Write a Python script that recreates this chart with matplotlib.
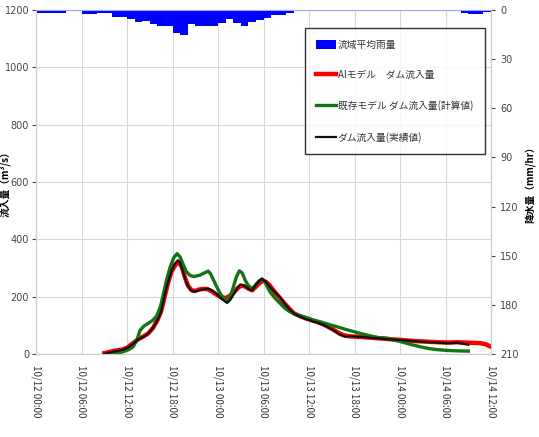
import matplotlib.pyplot as plt
import numpy as np

plt.rcParams['font.family'] = ['Noto Sans CJK JP', 'DejaVu Sans']

# hours since 10/12 00:00
tick_hours = [0, 6, 12, 18, 24, 30, 36, 42, 48, 54, 60]
tick_labels = ['10/12 00:00', '10/12 06:00', '10/12 12:00', '10/12 18:00',
               '10/13 00:00', '10/13 06:00', '10/13 12:00', '10/13 18:00',
               '10/14 00:00', '10/14 06:00', '10/14 12:00']

# basin average rainfall (mm/hr), hourly from 10/12 00:00
rain = [2, 2, 1.5, 1.5, 0.5, 0.5, 2.5, 2.5, 1.5, 2, 4, 4, 5.5, 7, 6.5, 8.5,
        10, 10, 14, 15.5, 8.5, 9.5, 9.5, 9.5, 8, 5.5, 8, 9.5, 7, 6, 5, 3, 3,
        1.5, 0.7, 0.7, 0.5, 0.5, 0.5, 0, 0, 0, 0, 0, 0, 0, 0.5, 0.5, 0, 0, 0,
        0, 0, 0, 0, 0, 1.5, 2.5, 2.5, 1]

# observed dam inflow
obs_t = [9.0, 9.5, 10.2, 11.0, 11.5, 12.2, 12.8, 13.3, 14.0, 14.6, 15.0, 15.5,
         16.0, 16.4, 16.8, 17.2, 17.6, 17.9, 18.3, 18.7, 19.0, 19.3, 19.6, 19.9,
         20.3, 20.8, 21.2, 21.6, 22.2, 22.7, 23.2, 23.8, 24.3, 24.8, 25.2, 25.6,
         26.0, 26.5, 26.9, 27.3, 27.8, 28.2, 28.5, 28.9, 29.3, 29.8, 30.2, 30.6,
         30.9, 31.5, 32.2, 32.8, 33.5, 34.2, 34.8, 35.5, 36.1, 36.5, 36.8, 37.5,
         38.2, 38.8, 39.5, 40.0, 40.8, 41.5, 42.3, 43.2, 44.3, 45.4, 46.5, 48.0,
         49.3, 50.7, 52.0, 53.2, 54.2, 55.0, 55.5, 56.2, 57.0]
obs_q = [0, 4, 8, 12, 15, 24, 35, 48, 58, 67, 78, 95,
         118, 140, 185, 232, 268, 292, 315, 327, 318, 295, 265, 245,
         225, 217, 220, 223, 226, 228, 222, 210, 196, 185, 178, 188,
         205, 228, 242, 240, 232, 224, 222, 238, 252, 262, 255, 242,
         232, 215, 198, 175, 153, 138, 130, 122, 118, 113, 112, 106,
         98, 89, 78, 68, 60, 62, 60, 59, 56, 54, 51, 49,
         46, 43, 41, 39, 37, 38, 39, 36, 32]

# AI model dam inflow
ai_t = [9.0, 9.8, 10.5, 11.3, 12.0, 12.8, 13.5, 14.2, 14.8, 15.4, 16.0, 16.5,
        17.0, 17.5, 17.9, 18.4, 18.8, 19.2, 19.6, 20.0, 20.5, 21.0, 21.5, 22.0,
        22.6, 23.2, 23.8, 24.4, 25.0, 25.5, 26.0, 26.6, 27.0, 27.5, 28.0, 28.5,
        29.0, 29.5, 29.9, 30.3, 30.8, 31.3, 32.0, 32.7, 33.4, 34.0, 34.8, 35.6,
        36.3, 37.0, 37.8, 38.5, 39.2, 39.8, 40.5, 41.2, 42.5, 44.0, 45.5, 47.0,
        48.5, 50.0, 51.5, 53.0, 54.5, 55.5, 56.5, 57.5, 58.5, 59.3, 60.0]
ai_q = [3, 8, 12, 15, 22, 38, 52, 62, 72, 90, 118, 150,
        205, 258, 290, 312, 320, 305, 270, 240, 222, 220, 225, 227,
        226, 218, 207, 198, 195, 202, 213, 230, 238, 236, 228, 222,
        235, 248, 255, 252, 240, 222, 200, 178, 158, 142, 132, 124,
        118, 112, 104, 95, 85, 75, 66, 62, 60, 57, 54, 51,
        48, 45, 43, 41, 40, 41, 40, 39, 38, 34, 25]

# existing model dam inflow (calculated)
conv_t = [9.5, 10.3, 11.0, 11.5, 12.2, 12.8, 13.3, 13.7, 14.2, 14.8, 15.4, 15.9,
          16.4, 16.8, 17.2, 17.7, 18.2, 18.6, 19.0, 19.4, 19.8, 20.3, 20.8, 21.6,
          22.2, 22.7, 23.0, 23.4, 23.9, 24.3, 24.8, 25.2, 25.6, 26.0, 26.4, 26.8,
          27.2, 27.6, 28.0, 28.5, 28.9, 29.4, 29.8, 30.2, 30.6, 30.9, 31.5, 32.2,
          32.8, 33.5, 34.3, 35.3, 36.4, 37.5, 38.6, 39.7, 40.8, 41.9, 43.0, 44.1,
          45.2, 46.3, 47.2, 48.5, 49.6, 50.7, 51.8, 52.9, 54.5, 56.0, 57.0]
conv_q = [0, 3, 5, 8, 15, 25, 50, 82, 97, 107, 118, 132,
          165, 210, 258, 305, 338, 350, 338, 312, 288, 274, 270, 275,
          283, 289, 280, 258, 230, 210, 192, 185, 200, 232, 268, 290,
          282, 256, 238, 228, 240, 255, 262, 250, 228, 215, 195, 176,
          160, 147, 137, 130, 120, 112, 103, 95, 86, 78, 70, 63,
          57, 55, 49, 40, 32, 25, 19, 15, 12, 10.5, 10]

fig = plt.figure(figsize=(5.39, 4.37), dpi=100)
ax = fig.add_axes([0.067, 0.19, 0.844, 0.787])
ax2 = ax.twinx()

ax.plot(ai_t, ai_q, color='#ff0000', lw=3.2, label='AIモデル　ダム流入量', zorder=3)
ax.plot(conv_t, conv_q, color='#127512', lw=2.4, label='既存モデル ダム流入量(計算値)', zorder=4)
ax.plot(obs_t, obs_q, color='#111111', lw=1.6, label='ダム流入量(実績値)', zorder=5)

ax2.bar(np.arange(len(rain)), rain, width=1.0, align='edge', color='#0000ff',
        label='流域平均雨量')

narrow = ['Liberation Sans Narrow', 'DejaVu Sans']

ax.set_xlim(0, 60)
ax.set_ylim(0, 1200)
ax.set_yticks(range(0, 1201, 200))
ax.set_xticks(tick_hours)
ax.set_xticklabels(tick_labels, rotation=-90, fontsize=7, color='#333333')
ax.tick_params(axis='y', labelsize=7, colors='#444444', length=3, pad=2)
ax.tick_params(axis='x', length=0, pad=8)
ax.grid(True, color='#d9d9d9', lw=0.8)
ax.set_axisbelow(True)

ax2.set_ylim(210, 0)
ax2.set_yticks(range(0, 211, 30))
ax2.tick_params(axis='y', labelsize=7, colors='#444444', length=3)

for lbl in ax.get_yticklabels() + ax2.get_yticklabels():
    lbl.set_family(narrow)

for a in (ax, ax2):
    for s in a.spines.values():
        s.set_color('#cccccc')
ax2.spines['top'].set_color('#9aaaff')

ax.set_ylabel('流入量（m³/s）', fontsize=7, fontweight='bold')
ax.yaxis.set_label_coords(-0.056, 0.5)
ax2.set_ylabel('降水量（mm/hr）', fontsize=7, fontweight='bold', labelpad=4)

h1, l1 = ax.get_legend_handles_labels()
h2, l2 = ax2.get_legend_handles_labels()
leg = ax.legend(h2 + h1, l2 + l1, loc='upper right', bbox_to_anchor=(0.997, 0.962),
                fontsize=7, frameon=True, fancybox=False, edgecolor='black',
                handlelength=2.0, handleheight=1.1, borderpad=1.2,
                labelspacing=2.1, handletextpad=0.2)
leg.get_frame().set_linewidth(1.0)
for t in leg.get_texts():
    t.set_color('#333333')

fig.savefig('out.png', dpi=100)
